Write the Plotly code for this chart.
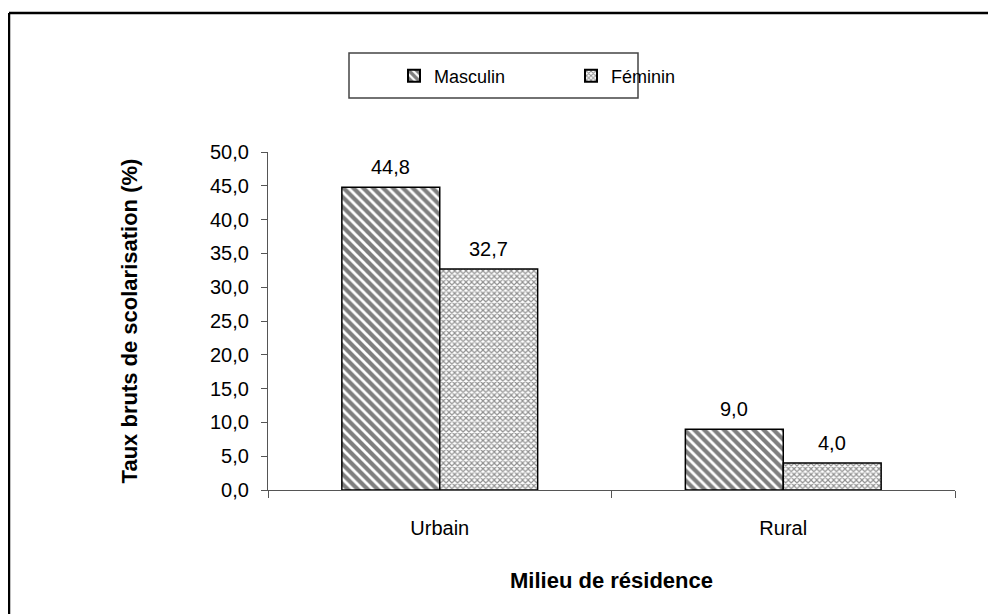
import plotly.graph_objects as go

milieux = ["Urbain", "Rural"]
masculin = [44.8, 9.0]
feminin = [32.7, 4.0]
y_ticks = [0, 5, 10, 15, 20, 25, 30, 35, 40, 45, 50]

police = "Liberation Sans, Arial, sans-serif"

# la page a une marge de 8 px : on raisonne en pixels écran
def px(xs):
    return (xs - 268) / 687

def py(ys):
    return (490 - ys) / 338

fig = go.Figure()
fig.add_trace(go.Bar(
    x=milieux, y=masculin, name="Masculin",
    marker=dict(color="white", line=dict(color="black", width=1.5),
                pattern=dict(shape="\\", fgcolor="black", bgcolor="white",
                             size=7, solidity=0.6)),
))
fig.add_trace(go.Bar(
    x=milieux, y=feminin, name="Féminin",
    marker=dict(color="white", line=dict(color="black", width=1.5),
                pattern=dict(shape="x", fgcolor="#222", bgcolor="white",
                             size=4, solidity=0.5)),
))

# étiquettes de valeurs au-dessus des barres
annotations = []
for serie, dx in [(masculin, -49), (feminin, 49)]:
    for cat, val in zip(milieux, serie):
        annotations.append(dict(
            x=cat, y=val, xref="x", yref="y", xshift=dx, yshift=7,
            text=f"{val:.1f}".replace(".", ","), showarrow=False,
            yanchor="bottom", font=dict(size=20, color="black")))

fig.update_layout(
    width=988, height=606,
    paper_bgcolor="white", plot_bgcolor="white",
    margin=dict(l=260, r=41, t=144, b=124),
    font=dict(family=police, size=20, color="black"),
    separators=", ",
    barmode="group", bargap=0.43, bargroupgap=0,
    showlegend=True,
    legend=dict(orientation="h", x=px(394), xanchor="left", y=py(76), yanchor="middle",
                bgcolor="rgba(0,0,0,0)", borderwidth=0,
                font=dict(size=18), entrywidth=132, itemsizing="constant"),
    annotations=annotations,
    xaxis=dict(showline=True, linecolor="#555", linewidth=1.2,
               ticks="outside", tickson="boundaries", ticklen=7, tickcolor="#555",
               tickfont=dict(size=20), ticklabelstandoff=20,
               title=dict(text="<b>Milieu de résidence</b>", font=dict(size=22), standoff=34)),
    yaxis=dict(range=[0, 50], tickvals=y_ticks, tickformat=".1f",
               showline=True, linecolor="#555", linewidth=1.2,
               ticks="outside", ticklen=6, tickcolor="#555",
               showgrid=False, zeroline=False,
               tickfont=dict(size=20), ticklabelstandoff=8,
               title=dict(text="<b>Taux bruts de scolarisation (%)</b>", font=dict(size=22), standoff=66)),
    shapes=[
        dict(type="rect", xref="paper", yref="paper",
             x0=px(349), x1=px(638), y0=py(98), y1=py(53),
             line=dict(color="#444", width=1.5), fillcolor="rgba(0,0,0,0)", layer="below"),
        dict(type="line", xref="paper", yref="paper",
             x0=px(9), x1=px(1000), y0=py(13), y1=py(13),
             line=dict(color="black", width=2.5)),
        dict(type="line", xref="paper", yref="paper",
             x0=px(9), x1=px(9), y0=py(13), y1=py(620),
             line=dict(color="black", width=2.5)),
    ],
)

fig.write_html("out.html")
